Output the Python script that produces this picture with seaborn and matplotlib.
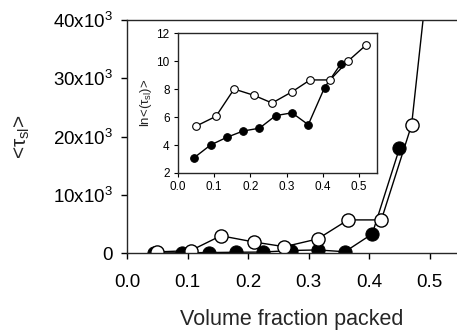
import matplotlib
matplotlib.use("Agg")
import matplotlib.pyplot as plt
import seaborn as sns

# volume fraction packed
x_filled = [0.045, 0.09, 0.135, 0.18, 0.225, 0.27, 0.315, 0.36, 0.405, 0.45]
x_open = [0.05, 0.105, 0.155, 0.21, 0.26, 0.315, 0.365, 0.42, 0.47, 0.52]

# <tau_sl> values (main plot)
tau_filled = [22, 55, 95, 148, 181, 446, 545, 233, 3300, 18000]
tau_open = [210, 424, 2980, 1900, 1100, 2440, 5700, 5700, 22000, 69700]

# ln<tau_sl> values (inset)
ln_filled = [3.1, 4.0, 4.55, 5.0, 5.2, 6.1, 6.3, 5.45, 8.1, 9.8]
ln_open = [5.35, 6.05, 8.0, 7.55, 7.0, 7.8, 8.65, 8.65, 10.0, 11.15]

main_xticks = [0.0, 0.1, 0.2, 0.3, 0.4, 0.5]
main_yticks = [0, 10000, 20000, 30000, 40000]
main_ylabels = ["0", r"10x10$^3$", r"20x10$^3$", r"30x10$^3$", r"40x10$^3$"]
inset_xticks = [0.0, 0.1, 0.2, 0.3, 0.4, 0.5]
inset_yticks = [2, 4, 6, 8, 10, 12]

sns.set_style("ticks")
plt.rcParams["font.family"] = ["Liberation Sans", "DejaVu Sans"]
plt.rcParams["mathtext.fontset"] = "custom"
plt.rcParams["mathtext.rm"] = "Liberation Sans"
plt.rcParams["mathtext.it"] = "Liberation Sans:italic"
plt.rcParams["axes.linewidth"] = 1.0

fig = plt.figure(figsize=(4.57, 3.30), dpi=100)
ax = fig.add_axes([0.278, 0.233, 0.722, 0.706])

sns.lineplot(x=x_filled, y=tau_filled, ax=ax, color="black", marker="o",
             markersize=9.5, markerfacecolor="black", markeredgecolor="black",
             linewidth=1.0)
sns.lineplot(x=x_open, y=tau_open, ax=ax, color="black", marker="o",
             markersize=9.5, markerfacecolor="white", markeredgecolor="black",
             markeredgewidth=1.0, linewidth=1.0)

ax.set_xlim(0, 0.545)
ax.set_ylim(0, 40000)
ax.set_xticks(main_xticks)
ax.set_xticklabels([f"{v:.1f}" for v in main_xticks], fontsize=13.5)
ax.set_yticks(main_yticks)
ax.set_yticklabels(main_ylabels, fontsize=13.5)
ax.tick_params(direction="out", length=4, width=1, colors="black")
ax.tick_params(axis="x", pad=11)
ax.tick_params(axis="y", pad=6)
ax.spines["right"].set_visible(False)
ax.set_xlabel("Volume fraction packed", fontsize=15.5, labelpad=13)
ax.set_ylabel(r"<$\mathrm{τ}_{\mathrm{sl}}$>", fontsize=15, labelpad=15)

# inset
axi = fig.add_axes([0.3895, 0.4758, 0.4355, 0.424])
sns.lineplot(x=x_filled, y=ln_filled, ax=axi, color="black", marker="o",
             markersize=5.5, markerfacecolor="black", markeredgecolor="black",
             linewidth=1.0)
sns.lineplot(x=x_open, y=ln_open, ax=axi, color="black", marker="o",
             markersize=5.5, markerfacecolor="white", markeredgecolor="black",
             markeredgewidth=0.8, linewidth=1.0)
axi.set_xlim(0, 0.55)
axi.set_ylim(2, 12)
axi.set_xticks(inset_xticks)
axi.set_xticklabels([f"{v:.1f}" for v in inset_xticks], fontsize=8.5)
axi.set_yticks(inset_yticks)
axi.set_yticklabels([str(v) for v in inset_yticks], fontsize=8.5)
axi.tick_params(direction="out", length=3, width=0.8, colors="black", pad=3)
axi.set_ylabel(r"ln<($\mathrm{τ}_{\mathrm{sl}}$)>", fontsize=9.5, labelpad=2)

fig.savefig("out.png", dpi=100)
